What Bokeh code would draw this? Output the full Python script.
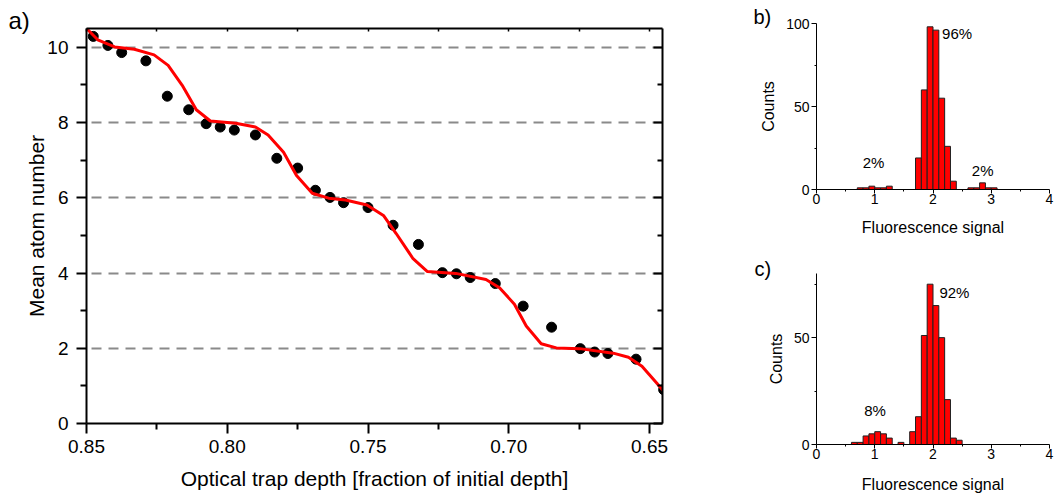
from bokeh.plotting import figure
from bokeh.models import (Range1d, LinearAxis, FixedTicker, NumeralTickFormatter,
                          Label, Title, CustomJSTickFormatter)
from bokeh.layouts import row, column
from bokeh.embed import file_html
from bokeh.resources import INLINE

FONT = "Liberation Sans"

# ---------------- panel a data ----------------
depth_pts = [0.8476, 0.8424, 0.8375, 0.8289, 0.8213, 0.8137, 0.8075, 0.8025, 0.7975,
             0.7900, 0.7824, 0.7750, 0.7687, 0.7635, 0.7587, 0.7500, 0.7411, 0.7321,
             0.7236, 0.7186, 0.7137, 0.7048, 0.6949, 0.6848, 0.6746, 0.6695, 0.6648,
             0.6548, 0.6450]
atoms_pts = [10.29, 10.05, 9.86, 9.64, 8.70, 8.34, 7.97, 7.88, 7.80,
             7.67, 7.05, 6.79, 6.20, 6.01, 5.87, 5.74, 5.27, 4.76,
             4.01, 3.98, 3.88, 3.72, 3.12, 2.56, 1.99, 1.90, 1.86,
             1.71, 0.90]

depth_fit = [0.850, 0.846, 0.840, 0.833, 0.826, 0.821, 0.816, 0.811, 0.806, 0.797,
             0.790, 0.7855, 0.780, 0.7754, 0.7698, 0.764, 0.758, 0.7504, 0.7444,
             0.7400, 0.7355, 0.7340, 0.7289, 0.7188, 0.7081, 0.7033, 0.698, 0.6938,
             0.6885, 0.6831, 0.6748, 0.6629, 0.6575, 0.6527, 0.6474, 0.6444]
atoms_fit = [10.50, 10.20, 10.01, 9.95, 9.80, 9.52, 8.99, 8.34, 8.04, 7.98,
             7.88, 7.67, 7.21, 6.59, 6.12, 5.99, 5.94, 5.81, 5.52,
             5.05, 4.55, 4.38, 4.04, 3.99, 3.83, 3.61, 3.17, 2.59,
             2.12, 2.01, 1.99, 1.87, 1.76, 1.52, 1.07, 0.81]

a_x_major = [0.85, 0.80, 0.75, 0.70, 0.65]
a_x_minor = [0.825, 0.775, 0.725, 0.675]
a_top_ticks = [0.85, 0.825, 0.80, 0.775, 0.75, 0.725, 0.70, 0.675, 0.65]
a_y_major = [0, 2, 4, 6, 8, 10]
a_y_minor = [1, 3, 5, 7, 9]
a_grid_levels = [2, 4, 6, 8, 10]

# ---------------- panel b / c data ----------------
bin_width = 0.1
b_left = [0.7, 0.8, 0.9, 1.0, 1.1, 1.2,
          1.7, 1.8, 1.9, 2.0, 2.1, 2.2, 2.3,
          2.6, 2.7, 2.8, 2.9, 3.0]
b_counts = [1, 1, 2, 1, 1, 2,
            19, 60, 98, 96, 55, 26, 5,
            1, 1, 4, 1, 1]
c_left = [0.6, 0.7, 0.8, 0.9, 1.0, 1.1, 1.2, 1.4,
          1.6, 1.7, 1.8, 1.9, 2.0, 2.1, 2.2, 2.3, 2.4]
c_counts = [1, 1, 4, 5, 6, 5, 3, 1,
            6, 13, 51, 75, 65, 50, 21, 3, 2]

hist_x_major = [0, 1, 2, 3, 4]
hist_x_minor = [0.5, 1.5, 2.5, 3.5]
hist_y_minor = [25, 75]

b_pct_text = ["96%", "2%", "2%"]
c_pct_text = ["92%", "8%"]

blank = CustomJSTickFormatter(code="return ''")


def style_axis(ax, size, label_size=None):
    ax.axis_line_color = "black"
    ax.major_tick_line_color = "black"
    ax.minor_tick_line_color = "black"
    ax.major_label_text_font = FONT
    ax.major_label_text_font_size = size
    ax.major_label_text_color = "black"
    ax.axis_label_text_font = FONT
    ax.axis_label_text_font_style = "normal"
    ax.axis_label_text_color = "black"
    if label_size:
        ax.axis_label_text_font_size = label_size


def panel_title(text, size, offset, standoff):
    return Title(text=text, align="left", vertical_align="bottom",
                 offset=offset, standoff=standoff,
                 text_font=FONT, text_font_size=size,
                 text_font_style="normal", text_color="black")


# ================= panel a =================
pa = figure(width=730, height=497,
            x_range=Range1d(0.85, 0.6454), y_range=Range1d(0, 10.5),
            output_backend="svg", toolbar_location=None,
            min_border_left=86, min_border_right=68,
            min_border_top=28, min_border_bottom=74)
pa.outline_line_color = None
pa.background_fill_color = "white"
pa.border_fill_color = "white"
pa.xgrid.visible = False
pa.ygrid.ticker = FixedTicker(ticks=a_grid_levels)
pa.ygrid.grid_line_color = "#8a8a8a"
pa.ygrid.grid_line_width = 2
pa.ygrid.grid_line_dash = "10 7"

xa = pa.xaxis[0]
xa.ticker = FixedTicker(ticks=a_x_major, minor_ticks=a_x_minor)
xa.formatter = NumeralTickFormatter(format="0.00")
xa.axis_label = "Optical trap depth [fraction of initial depth]"
style_axis(xa, "19px", "21px")
xa.axis_line_width = 2
xa.major_tick_line_width = 2
xa.minor_tick_line_width = 2
xa.major_tick_in = 0
xa.major_tick_out = 10
xa.minor_tick_in = 0
xa.minor_tick_out = 6
xa.major_label_standoff = 6
xa.axis_label_standoff = 11

ya = pa.yaxis[0]
ya.ticker = FixedTicker(ticks=a_y_major, minor_ticks=a_y_minor)
ya.axis_label = "Mean atom number"
style_axis(ya, "19px", "21px")
ya.axis_line_width = 2
ya.major_tick_line_width = 2
ya.minor_tick_line_width = 2
ya.major_tick_in = 0
ya.major_tick_out = 10
ya.minor_tick_in = 0
ya.minor_tick_out = 6
ya.major_label_standoff = 8
ya.axis_label_standoff = -4

top_ax = LinearAxis(ticker=FixedTicker(ticks=a_top_ticks), formatter=blank)
style_axis(top_ax, "1px")
top_ax.axis_line_width = 2
top_ax.major_tick_line_width = 1.5
top_ax.major_tick_in = 3
top_ax.major_tick_out = 0
top_ax.minor_tick_in = 0
top_ax.minor_tick_out = 0
top_ax.major_label_standoff = 0
pa.add_layout(top_ax, "above")

right_ax = LinearAxis(ticker=FixedTicker(ticks=a_y_major, minor_ticks=a_y_minor), formatter=blank)
style_axis(right_ax, "1px")
right_ax.axis_line_width = 2
right_ax.major_tick_line_width = 2
right_ax.minor_tick_line_width = 2
right_ax.major_tick_in = 9
right_ax.major_tick_out = 0
right_ax.minor_tick_in = 5
right_ax.minor_tick_out = 0
right_ax.major_label_standoff = 0
pa.add_layout(right_ax, "right")

pa.add_layout(panel_title("a)", "24px", -78, -11), "above")

pa.scatter(depth_pts, atoms_pts, marker="circle", size=10,
           fill_color="black", line_color="black")
pa.line(depth_fit, atoms_fit, line_color="#ff0000", line_width=3)


# ================= panels b & c =================
def hist_fig(height, ymax, left_b, right_b, top_b, bottom_b, lefts, counts, y_ticks,
             label_standoff):
    p = figure(width=329, height=height,
               x_range=Range1d(0, 4), y_range=Range1d(0, ymax),
               output_backend="svg", toolbar_location=None,
               min_border_left=left_b, min_border_right=right_b,
               min_border_top=top_b, min_border_bottom=bottom_b)
    p.outline_line_color = None
    p.background_fill_color = "white"
    p.border_fill_color = "white"
    p.xgrid.visible = False
    p.ygrid.visible = False
    rights = [l + bin_width for l in lefts]
    p.quad(left=lefts, right=rights, bottom=0, top=counts,
           fill_color="#ff0000", line_color="#202020", line_width=1)
    xb = p.xaxis[0]
    xb.ticker = FixedTicker(ticks=hist_x_major, minor_ticks=hist_x_minor)
    xb.axis_label = "Fluorescence signal"
    style_axis(xb, "14px", "16px")
    xb.major_tick_in = 0
    xb.major_tick_out = 4
    xb.minor_tick_in = 0
    xb.minor_tick_out = 2
    xb.major_label_standoff = 0
    xb.axis_label_standoff = label_standoff
    yb = p.yaxis[0]
    yb.ticker = FixedTicker(ticks=y_ticks, minor_ticks=hist_y_minor)
    yb.axis_label = "Counts"
    style_axis(yb, "14px", "16px")
    yb.major_tick_in = 0
    yb.major_tick_out = 5
    yb.minor_tick_in = 0
    yb.minor_tick_out = 2
    yb.major_label_standoff = 2
    yb.axis_label_standoff = 6
    return p


pb = hist_fig(240, 100, 86, 10, 23, 51, b_left, b_counts, [0, 50, 100], 12)
pb.add_layout(panel_title("b)", "20px", -63, -8), "above")
pb.add_layout(Label(x=2.156, y=93.9, text=b_pct_text[0], text_font=FONT, text_font_size="15px",
                    text_align="left", text_baseline="middle", text_color="black"))
pb.add_layout(Label(x=0.978, y=16, text=b_pct_text[1], text_font=FONT, text_font_size="15px",
                    text_align="center", text_baseline="middle", text_color="black"))
pb.add_layout(Label(x=2.853, y=11.6, text=b_pct_text[2], text_font=FONT, text_font_size="15px",
                    text_align="center", text_baseline="middle", text_color="black"))

pc = hist_fig(257, 80, 85, 0, 33, 53, c_left, c_counts, [0, 50], 14)
pc.add_layout(panel_title("c)", "20px", -62, -12), "above")
pc.add_layout(Label(x=2.11, y=71.2, text=c_pct_text[0], text_font=FONT, text_font_size="15px",
                    text_align="left", text_baseline="middle", text_color="black"))
pc.add_layout(Label(x=1.005, y=15.9, text=c_pct_text[1], text_font=FONT, text_font_size="15px",
                    text_align="center", text_baseline="middle", text_color="black"))

layout = row(pa, column(pb, pc))

open("out.html", "w").write(file_html(layout, INLINE))
